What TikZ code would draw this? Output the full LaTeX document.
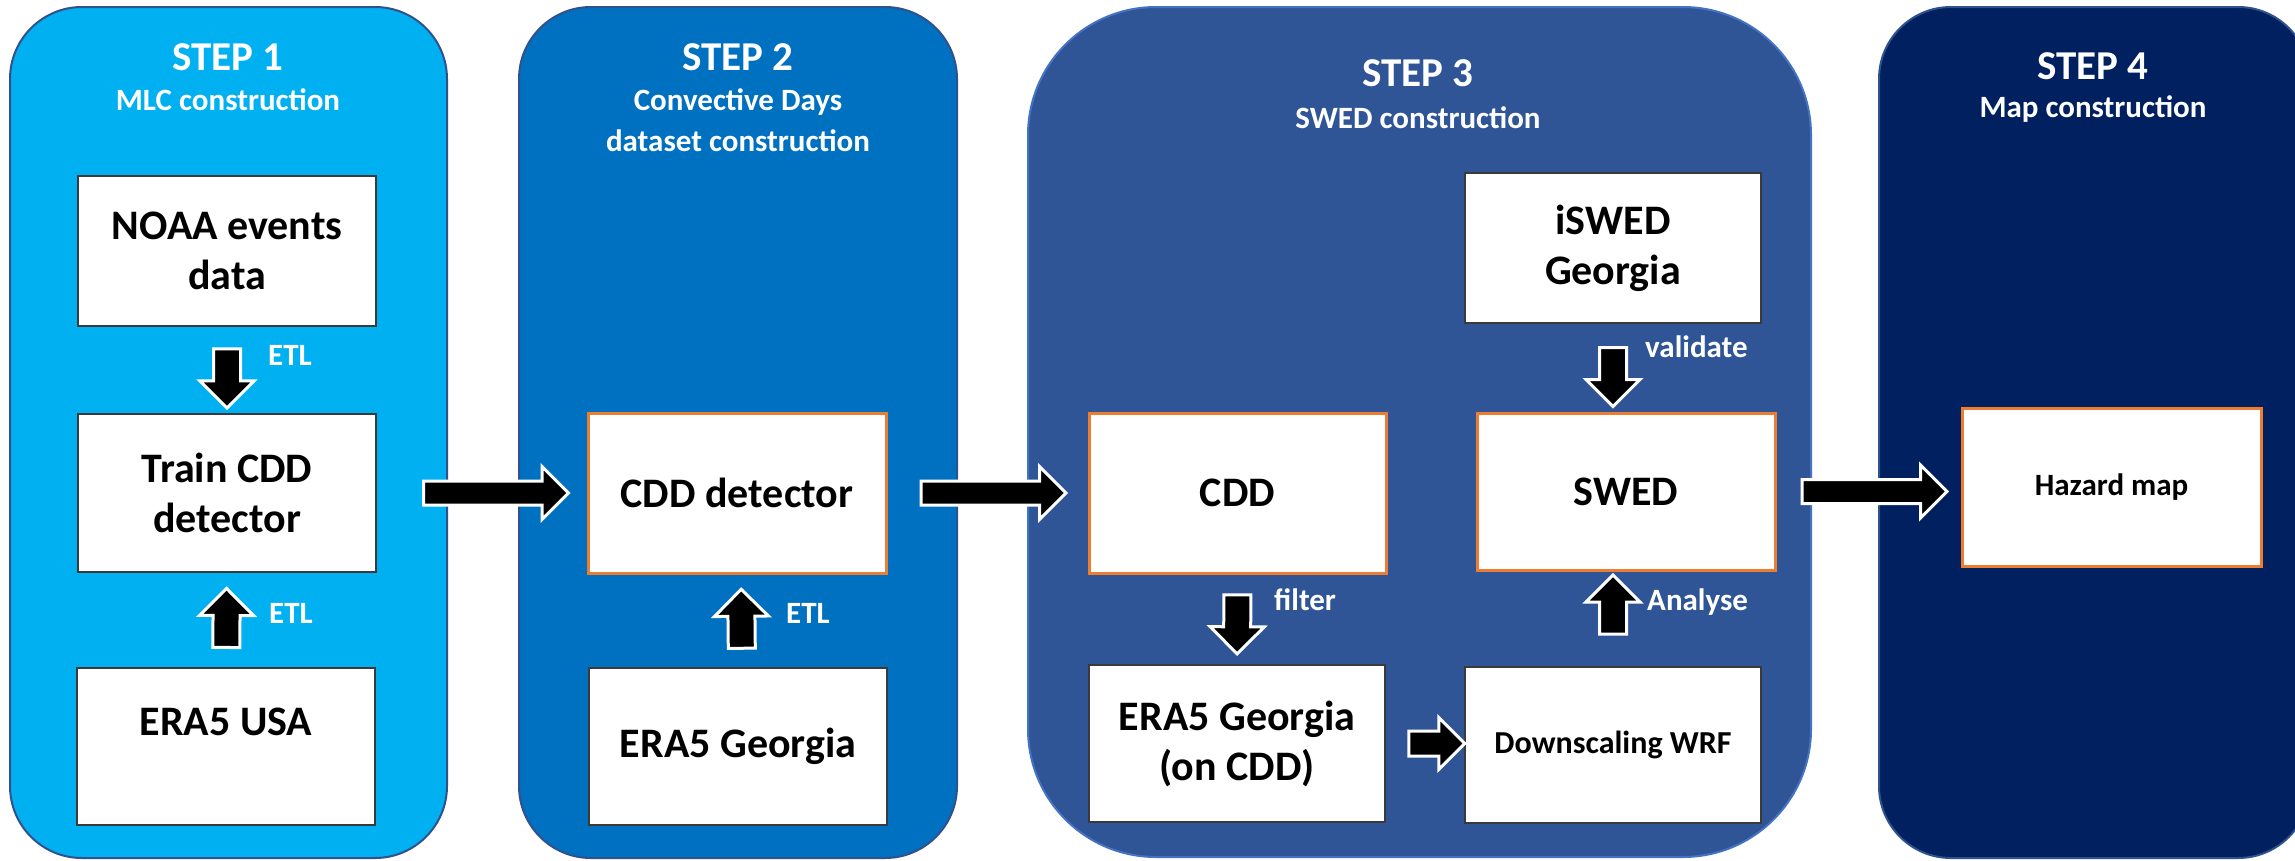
\documentclass[tikz,border=0pt]{standalone}
\usepackage{fontspec}
\setmainfont{Carlito}
\usetikzlibrary{shapes.arrows,calc}
\definecolor{cone}{HTML}{00B0F0}
\definecolor{ctwo}{HTML}{0070C0}
\definecolor{cthree}{HTML}{2F5597}
\definecolor{cfour}{HTML}{002060}
\definecolor{bdark}{HTML}{2F528F}
\definecolor{blight}{HTML}{4472C4}
\definecolor{boxline}{HTML}{3A3A3A}
\definecolor{orangeline}{HTML}{ED7D31}
\begin{document}
\begin{tikzpicture}[x=1pt,y=-1pt,
  panel/.style={inner sep=0, line width=2, draw=bdark},
  box/.style={draw=boxline, line width=1.5, fill=white, inner sep=0, minimum width=298, minimum height=157, align=center, text=black, font=\fontsize{42}{50}\selectfont\bfseries},
  obox/.style={box, draw=orangeline, line width=3},
  blockarr/.style={single arrow, single arrow tip angle=90, fill=black, draw=white, line width=3, inner xsep=0, sloped, allow upside down},
  bigarr/.style={blockarr, minimum height=145, inner ysep=10.5, single arrow head extend=14.5},
  smallarr/.style={blockarr, minimum height=59, inner ysep=12, single arrow head extend=13.5},
  ttl/.style={text=white, inner sep=0, anchor=base, font=\fontsize{41}{49}\selectfont\bfseries},
  sub/.style={text=white, inner sep=0, anchor=base, font=\fontsize{31}{41}\selectfont\bfseries},
  lbl/.style={text=white, inner sep=0, anchor=base west, font=\fontsize{31}{37}\selectfont\bfseries}
]
\useasboundingbox (0,0) rectangle (2295,860);
\fill[white] (0,0) rectangle (2295,860);

% panels
\node[panel, fill=cone, minimum width=437, minimum height=851, rounded corners=72] (p1) at (228.5,432.5) {};
\node[panel, fill=ctwo, minimum width=438, minimum height=851, rounded corners=72] (p2) at (738,432.5) {};
\node[panel, fill=cthree, draw=blight, minimum width=783, minimum height=850, rounded corners=128] (p3) at (1419.5,432) {};
\node[panel, fill=cfour, minimum width=431, minimum height=851, rounded corners=72] (p4) at (2094.5,432.5) {};

% titles
\node[ttl] (t1) at (228,70) {STEP 1};
\node[sub] (s1) at (228,110) {MLC construction};
\node[ttl] (t2) at (738,70) {STEP 2};
\node[sub] (s2a) at (738,110) {Convective Days};
\node[sub] (s2b) at (738,151) {dataset construction};
\node[ttl] (t3) at (1418,86) {STEP 3};
\node[sub] (s3) at (1418,128) {SWED construction};
\node[ttl] (t4) at (2093,79) {STEP 4};
\node[sub] (s4) at (2093,117) {Map construction};

% step 1 boxes
\node[box, minimum height=150] (noaa) at (227,251) {NOAA events\\data};
\node[box, minimum height=158] (train) at (227,493) {Train CDD\\detector};
\node[box] (era5usa) at (226,746.5) {ERA5 USA\\\mbox{}};

% step 2 boxes
\node[obox, minimum height=160] (cdddet) at (737,493) {CDD detector};
\node[box] (era5ga) at (738,746.5) {ERA5 Georgia};

% step 3 boxes
\node[box, minimum width=296, minimum height=150] (iswed) at (1613,248) {iSWED\\Georgia};
\node[obox, minimum width=297, minimum height=160] (cdd) at (1237.5,493) {CDD};
\node[obox] (swed) at (1626,491.5) {SWED};
\node[box, minimum width=296] (era5c) at (1237,743.5) {ERA5 Georgia\\(on CDD)};
\node[box, minimum width=296, minimum height=156, font=\fontsize{32}{38}\selectfont\bfseries] (down) at (1613,745) {Downscaling WRF};

% step 4 box
\node[obox, minimum width=299, minimum height=158, font=\fontsize{31}{37}\selectfont\bfseries] (hazard) at (2111.5,487) {Hazard map};

% block arrows between boxes
\path (noaa) -- node[smallarr, pos=0.52] (a1) {} (train);
\path (era5usa) -- node[smallarr, pos=0.45] (a2) {} (train);
\path (train.east) -- node[bigarr, pos=0.54] (a3) {} (cdddet.west);
\path ($(era5ga.north)+(4,0)$) -- node[smallarr, pos=0.45] (a4) {} ($(cdddet.south)+(4,0)$);
\path (cdddet.east) -- node[bigarr, pos=0.5] (a5) {} (cdd.west);
\path (iswed.south) -- node[smallarr, pos=0.53] (a6) {} (iswed.south |- swed.north);
\path (cdd.south) -- node[smallarr, pos=0.48] (a7) {} (era5c.north);
\path (down.north) -- node[smallarr, pos=0.58] (a8) {} (down.north |- swed.south);
\path (era5c.east) -- node[smallarr, minimum height=56, inner ysep=11, pos=0.57] (a9) {} (era5c.east -| down.west);
\path (swed.east) -- node[bigarr, pos=0.5] (a10) {} (swed.east -| hazard.west);

% arrow labels
\node[lbl] (l1) at (268,365) {ETL};
\node[lbl] (l2) at (269,623) {ETL};
\node[lbl] (l3) at (786,623) {ETL};
\node[lbl] (l4) at (1645,357) {validate};
\node[lbl] (l5) at (1274,610) {filter};
\node[lbl] (l6) at (1647,610) {Analyse};
\end{tikzpicture}
\end{document}
